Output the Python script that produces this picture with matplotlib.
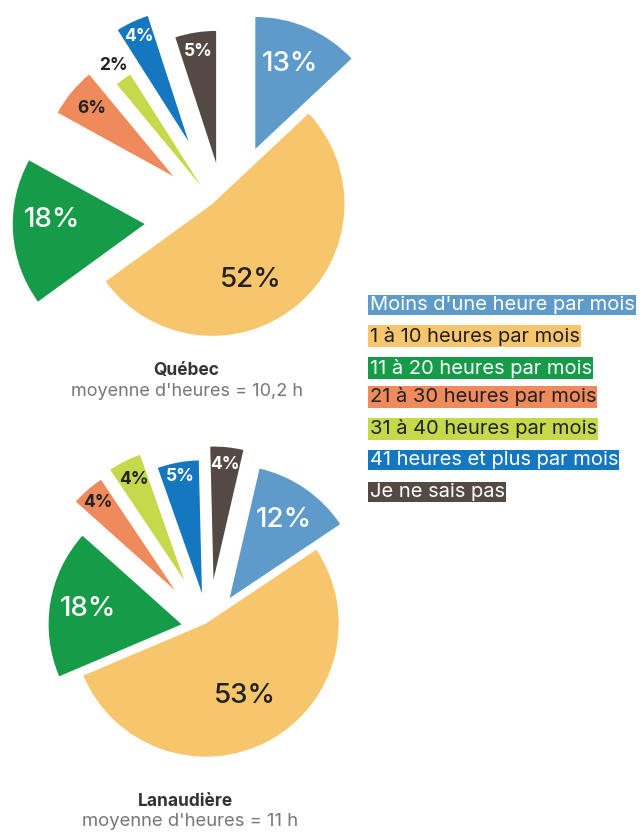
import math
import matplotlib
matplotlib.use("Agg")
import matplotlib.pyplot as plt

# ---------------- data ----------------
categories = ["Moins d'une heure par mois", "1 à 10 heures par mois", "11 à 20 heures par mois",
              "21 à 30 heures par mois", "31 à 40 heures par mois", "41 heures et plus par mois",
              "Je ne sais pas"]
quebec_values = [13, 52, 18, 6, 2, 4, 5]
lanaudiere_values = [12, 53, 18, 4, 4, 5, 4]
quebec_title = "Québec"
quebec_sub = "moyenne d'heures = 10,2 h"
lanaudiere_title = "Lanaudière"
lanaudiere_sub = "moyenne d'heures = 11 h"

# ---------------- style ----------------
colors = ["#5E9BCA", "#F7C66C", "#169B48", "#EF8A5D", "#C5D94C", "#1577C0", "#544A43"]
text_on = ["white", "#222222", "white", "#222222", "#222222", "white", "white"]
FONT = ["Inter", "DejaVu Sans"]
plt.rcParams["font.family"] = FONT

W, H = 641, 832
fig = plt.figure(figsize=(W / 100, H / 100), dpi=100)
fig.patch.set_facecolor("white")


def pie_axes(x0, y0, x1, y1, cx, cy, R):
    ax = fig.add_axes([x0 / W, 1 - y1 / H, (x1 - x0) / W, (y1 - y0) / H])
    return ax, ((x0 - cx) / R, (x1 - cx) / R), ((cy - y1) / R, (cy - y0) / R)


def draw_pie(values, region, cx, cy, R, start, explode, label_r, label_fixed, label_colors):
    ax, xl, yl = pie_axes(*region, cx, cy, R)
    wedges, _ = ax.pie(values, colors=colors, startangle=start, counterclock=False,
                       explode=explode, radius=1.0, center=(0, 0),
                       wedgeprops=dict(linewidth=0))
    ax.set_xlim(*xl)
    ax.set_ylim(*yl)
    ax.set_aspect("auto")
    ax.axis("off")
    for w, v, r, fixed, col in zip(wedges, values, label_r, label_fixed, label_colors):
        big = v >= 10
        kw = dict(ha="center", va="center", fontsize=20 if big else 12.5,
                  fontweight="medium" if big else "bold", color=col)
        if fixed is not None:
            # label centre given in figure pixels
            fig.text(fixed[0] / W, 1 - fixed[1] / H, f"{v}%", **kw)
        else:
            # label along the wedge bisector
            tm = math.radians(0.5 * (w.theta1 + w.theta2))
            x0, y0 = w.center
            ax.text(x0 + r * math.cos(tm), y0 + r * math.sin(tm), f"{v}%", **kw)
    return ax


q_colors = list(text_on)
q_colors[4] = "#222222"
draw_pie(quebec_values, (0, 0, 360, 360), 225, 219, 132, 90,
         [0.578, -0.149, 0.609, 0.508, 0.309, 0.649, 0.430],
         [0.695, 0.63, 0.714, 0.80, 1.124, 0.881, 0.855],
         [(290, 64), (251, 280), (52, 220), None, None, None, None], q_colors)
draw_pie(lanaudiere_values, (0, 420, 360, 780), 208.5, 628.8, 133, 77,
         [0.280, -0.044, 0.205, 0.384, 0.408, 0.271, 0.372],
         [0.711, 0.62, 0.714, 0.879, 0.847, 0.89, 0.868],
         [None] * 7, text_on)


def ptext(x, y, s, **kw):
    fig.text(x / W, 1 - y / H, s, ha="center", va="center", **kw)


# titles
ptext(186, 371, quebec_title, fontsize=12.5, fontweight="bold", color="#333333")
ptext(187, 392, quebec_sub, fontsize=13, color="#777777")
ptext(185, 801, lanaudiere_title, fontsize=12.5, fontweight="bold", color="#333333")
ptext(190, 822, lanaudiere_sub, fontsize=13.3, color="#777777")

# legend: coloured highlight boxes
leg_y = [305, 336, 368, 397, 429, 460, 492]
for i, (cat, y) in enumerate(zip(categories, leg_y)):
    fig.text(369.5 / W, 1 - y / H, cat, ha="left", va="center", fontsize=14.5,
             color=text_on[i],
             bbox=dict(boxstyle="square,pad=0.06", fc=colors[i], ec="none"))

fig.savefig("out.png", dpi=100, facecolor="white")
